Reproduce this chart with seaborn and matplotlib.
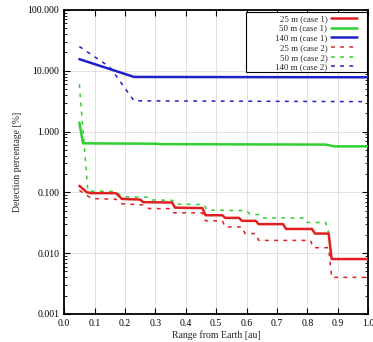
import numpy as np
import pandas as pd
import matplotlib
matplotlib.use("Agg")
import matplotlib.pyplot as plt
from matplotlib.patches import Rectangle
from matplotlib.ticker import LogLocator, FormatStrFormatter, NullFormatter, MultipleLocator
import seaborn as sns

# 25 m (case 1)
x_25_c1 = [0.05, 0.075, 0.09, 0.17, 0.19, 0.25, 0.26, 0.355, 0.365, 0.455, 0.465, 0.52,
           0.53, 0.575, 0.585, 0.63, 0.64, 0.72, 0.73, 0.815, 0.825, 0.87, 0.88, 1.0]
y_25_c1 = [0.128, 0.1, 0.097, 0.097, 0.078, 0.076, 0.069, 0.068, 0.056, 0.055, 0.042, 0.042,
           0.038, 0.038, 0.034, 0.034, 0.030, 0.030, 0.025, 0.025, 0.021, 0.021, 0.008, 0.008]
# 50 m (case 1)
x_50_c1 = [0.05, 0.062, 0.30, 0.32, 0.86, 0.89, 1.0]
y_50_c1 = [1.4, 0.64, 0.63, 0.62, 0.61, 0.57, 0.57]
# 140 m (case 1)
x_140_c1 = [0.05, 0.23, 1.0]
y_140_c1 = [15.5, 7.9, 7.8]
# 25 m (case 2)
x_25_c2 = [0.05, 0.09, 0.17, 0.19, 0.26, 0.28, 0.35, 0.36, 0.455, 0.465, 0.52, 0.53,
           0.585, 0.595, 0.63, 0.64, 0.81, 0.82, 0.87, 0.88, 1.0]
y_25_c2 = [0.108, 0.079, 0.077, 0.065, 0.062, 0.054, 0.054, 0.046, 0.046, 0.034, 0.034, 0.027,
           0.027, 0.021, 0.021, 0.0162, 0.0162, 0.0123, 0.0123, 0.004, 0.004]
# 50 m (case 2)
x_50_c2 = [0.05, 0.078, 0.17, 0.19, 0.28, 0.29, 0.355, 0.365, 0.46, 0.47, 0.60, 0.61,
           0.64, 0.65, 0.79, 0.80, 0.86, 0.87, 0.88, 1.0]
y_50_c2 = [6.0, 0.105, 0.103, 0.085, 0.083, 0.075, 0.074, 0.064, 0.063, 0.051, 0.050, 0.044,
           0.043, 0.038, 0.038, 0.032, 0.032, 0.022, 0.008, 0.008]
# 140 m (case 2)
x_140_c2 = [0.05, 0.15, 0.23, 1.0]
y_140_c2 = [25.0, 11.5, 3.2, 3.1]

series = [
    ("25 m (case 1)", x_25_c1, y_25_c1, "#e02020", "-"),
    ("50 m (case 1)", x_50_c1, y_50_c1, "#30d030", "-"),
    ("140 m (case 1)", x_140_c1, y_140_c1, "#2020c8", "-"),
    ("25 m (case 2)", x_25_c2, y_25_c2, "#e02020", "--"),
    ("50 m (case 2)", x_50_c2, y_50_c2, "#30d030", "--"),
    ("140 m (case 2)", x_140_c2, y_140_c2, "#2020c8", "--"),
]

sns.set_style("ticks")
plt.rcParams["font.family"] = ["Liberation Serif", "DejaVu Serif"]
plt.rcParams["font.size"] = 7

fig = plt.figure(figsize=(3.73, 3.42), dpi=100)
ax = fig.add_axes([0.172, 0.082, 0.815, 0.889])

for label, xs, ys, color, ls in series:
    df = pd.DataFrame({"x": xs, "y": ys})
    if ls == "-":
        sns.lineplot(data=df, x="x", y="y", ax=ax, sort=False, estimator=None,
                     color=color, lw=1.8, label=label, zorder=3)
    else:
        sns.lineplot(data=df, x="x", y="y", ax=ax, sort=False, estimator=None,
                     color=color, lw=1.1, label=label, zorder=2,
                     dashes=False, linestyle=(0, (2.5, 3.5)))

ax.set_yscale("log")
ax.set_xlim(0.0, 1.0)
ax.set_ylim(0.001, 100)
ax.xaxis.set_major_locator(MultipleLocator(0.1))
ax.xaxis.set_major_formatter(FormatStrFormatter("%.1f"))
ax.yaxis.set_major_locator(LogLocator(base=10, numticks=10))
ax.yaxis.set_major_formatter(FormatStrFormatter("%.3f"))
ax.yaxis.set_minor_locator(LogLocator(base=10, subs=np.arange(2, 10), numticks=20))
ax.yaxis.set_minor_formatter(NullFormatter())

ax.grid(True, which="major", color="#dcdcdc", lw=0.6)
ax.tick_params(which="both", direction="in", top=True, right=True, labelsize=7, colors="black")
ax.tick_params(which="major", length=4, width=0.8)
ax.tick_params(which="minor", length=2, width=0.6)
for sp in ax.spines.values():
    sp.set_color("black")
    sp.set_linewidth(1.3)

ax.set_xlabel("Range from Earth [au]", fontsize=7, labelpad=2)
ax.set_ylabel("Detection percentage [%]", fontsize=7, labelpad=4)

# gnuplot-like key: labels right-aligned, samples on the right, wide box
leg = ax.legend(loc="upper right", markerfirst=False, fontsize=6.3, frameon=False,
                handlelength=3.0, labelspacing=0.18, borderpad=0.2, handletextpad=0.45,
                bbox_to_anchor=(0.985, 1.004))
leg.set_zorder(6)
box = Rectangle((0.599, 0.795), 0.398, 0.198, transform=ax.transAxes, facecolor="white",
                edgecolor="black", lw=0.8, zorder=5)
ax.add_patch(box)

fig.savefig("out.png", dpi=100)
